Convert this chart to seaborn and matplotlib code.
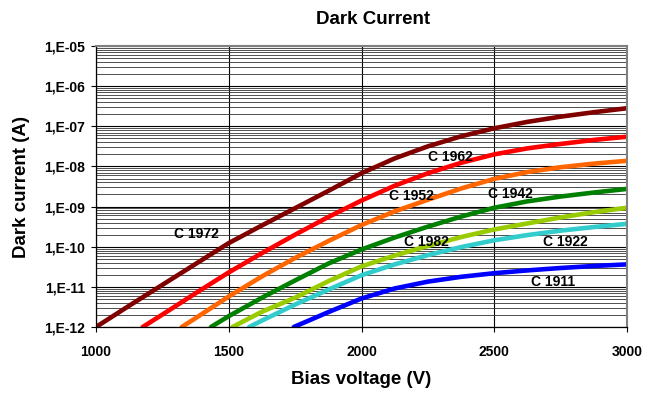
import numpy as np
import pandas as pd
import matplotlib
matplotlib.use("Agg")
import matplotlib.pyplot as plt
import matplotlib.ticker as mticker
import seaborn as sns

# ---- data (log10 of dark current in A) ----
v_1972 = [1000, 1125, 1250, 1375, 1500, 1625, 1750, 1875, 2000, 2125, 2250, 2375, 2500, 2625, 2750, 2875, 3000]
l_1972 = [-12.00, -11.47, -10.95, -10.43, -9.91, -9.47, -9.04, -8.61, -8.17, -7.80, -7.50, -7.25, -7.05, -6.89, -6.76, -6.65, -6.55]
v_1962 = [1176, 1250, 1375, 1500, 1625, 1750, 1875, 2000, 2125, 2250, 2375, 2500, 2625, 2750, 2875, 3000]
l_1962 = [-12.00, -11.69, -11.16, -10.64, -10.16, -9.70, -9.26, -8.85, -8.48, -8.17, -7.91, -7.70, -7.55, -7.44, -7.34, -7.26]
v_1952 = [1323, 1375, 1500, 1625, 1750, 1875, 2000, 2125, 2250, 2375, 2500, 2625, 2750, 2875, 3000]
l_1952 = [-12.00, -11.78, -11.24, -10.74, -10.28, -9.86, -9.46, -9.12, -8.83, -8.55, -8.31, -8.14, -8.02, -7.93, -7.86]
v_1942 = [1433, 1500, 1625, 1750, 1875, 2000, 2125, 2250, 2375, 2500, 2625, 2750, 2875, 3000]
l_1942 = [-12.00, -11.73, -11.27, -10.84, -10.42, -10.07, -9.77, -9.50, -9.25, -9.03, -8.87, -8.75, -8.65, -8.56]
v_1982 = [1514, 1625, 1750, 1875, 2000, 2125, 2250, 2375, 2500, 2625, 2750, 2875, 3000]
l_1982 = [-12.00, -11.62, -11.27, -10.86, -10.49, -10.22, -9.98, -9.76, -9.57, -9.42, -9.27, -9.14, -9.03]
v_1922 = [1577, 1625, 1750, 1875, 2000, 2125, 2250, 2375, 2500, 2625, 2750, 2875, 3000]
l_1922 = [-12.00, -11.84, -11.44, -11.07, -10.71, -10.44, -10.21, -10.01, -9.84, -9.71, -9.60, -9.51, -9.43]
v_1911 = [1745, 1875, 2000, 2125, 2250, 2375, 2500, 2625, 2750, 2875, 3000]
l_1911 = [-12.00, -11.63, -11.29, -11.04, -10.87, -10.75, -10.66, -10.59, -10.53, -10.48, -10.44]

series_names = ["C 1972", "C 1962", "C 1952", "C 1942", "C 1982", "C 1922", "C 1911"]
series_v = [v_1972, v_1962, v_1952, v_1942, v_1982, v_1922, v_1911]
series_l = [l_1972, l_1962, l_1952, l_1942, l_1982, l_1922, l_1911]
colors = ["#800000", "#FF0000", "#FF6600", "#008000", "#99CC00", "#33CCCC", "#0000FF"]

# label positions (V, log10 I)
label_v = [1377, 2333, 2189, 2562, 2245, 2766, 2722]
label_l = [-9.68, -7.76, -8.73, -8.68, -9.89, -9.88, -10.89]

ytick_vals = [1e-12, 1e-11, 1e-10, 1e-9, 1e-8, 1e-7, 1e-6, 1e-5]
ytick_labels = ["1,E-12", "1,E-11", "1,E-10", "1,E-09", "1,E-08", "1,E-07", "1,E-06", "1,E-05"]
xtick_vals = [1000, 1500, 2000, 2500, 3000]

rows = []
for n, vs, ls in zip(series_names, series_v, series_l):
    for v, l in zip(vs, ls):
        rows.append({"V": v, "I": 10 ** l, "series": n})
df = pd.DataFrame(rows)

sns.set_theme(style="white")
plt.rcParams['font.family'] = ['Liberation Sans', 'DejaVu Sans']
plt.rcParams['text.color'] = 'black'
plt.rcParams['axes.labelcolor'] = 'black'
plt.rcParams['xtick.color'] = 'black'
plt.rcParams['ytick.color'] = 'black'

fig = plt.figure(figsize=(6.51, 4.05), dpi=100)
ax = fig.add_axes([96 / 651, 1 - 327 / 405, 531 / 651, 281 / 405])

ax.set_yscale("log")
ax.set_xlim(1000, 3000)
ax.set_ylim(1e-12, 1e-5)

# grid
ax.yaxis.set_minor_locator(mticker.LogLocator(base=10, subs=np.arange(2, 10)))
ax.grid(True, which="major", axis="both", color="#000000", linewidth=0.8)
ax.grid(True, which="minor", axis="y", color="#333333", linewidth=0.6)
ax.set_axisbelow(True)

sns.lineplot(data=df, x="V", y="I", hue="series", hue_order=series_names,
             palette=colors, linewidth=3.3, legend=False, ax=ax, estimator=None,
             sort=True)
for line in ax.get_lines():
    line.set_solid_joinstyle("round")

for n, lv, ll in zip(series_names, label_v, label_l):
    ax.text(lv, 10 ** ll, n, ha="center", va="center", fontsize=10,
            fontweight="bold", color="black")

ax.set_yticks(ytick_vals)
ax.set_yticklabels(ytick_labels)
ax.yaxis.set_minor_formatter(mticker.NullFormatter())
ax.set_xticks(xtick_vals)
ax.set_xticklabels([str(x) for x in xtick_vals])
ax.tick_params(axis="both", which="major", direction="out", length=3.6, width=0.8,
               color="black", labelcolor="black", labelsize=10, left=True, bottom=True)
ax.tick_params(axis="y", which="major", pad=4.5)
ax.tick_params(axis="x", which="major", pad=9)
ax.tick_params(axis="y", which="minor", left=False)
for lab in ax.get_xticklabels() + ax.get_yticklabels():
    lab.set_fontweight("bold")

for s in ["left", "bottom"]:
    ax.spines[s].set_color("black")
    ax.spines[s].set_linewidth(0.9)
for s in ["top", "right"]:
    ax.spines[s].set_color("#808080")
    ax.spines[s].set_linewidth(1.5)

ax.set_xlabel("Bias voltage (V)", fontsize=13.5, fontweight="bold", va="center", color="black")
ax.xaxis.set_label_coords(0.5, (327 - 380) / 281)
ax.set_ylabel("Dark current (A)", fontsize=13.5, fontweight="bold", va="center", color="black")
ax.yaxis.set_label_coords((22 - 96) / 531, 0.5)
fig.text(373 / 651, 1 - 19 / 405, "Dark Current", ha="center", va="center",
         fontsize=13.5, fontweight="bold", color="black")

fig.savefig("out.png", dpi=100)
